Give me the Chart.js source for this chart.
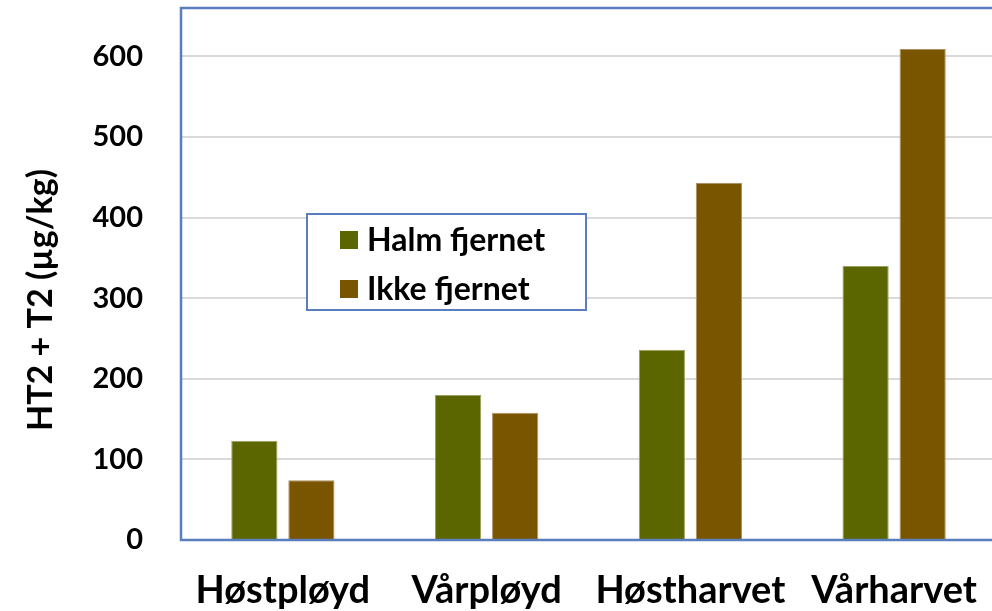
<!DOCTYPE html>
<html>
<head>
<meta charset="utf-8">
<script src="https://cdn.jsdelivr.net/npm/chart.js@4.4.0/dist/chart.umd.min.js"></script>
<style>
    html, body { margin: 0; padding: 0; background: #fff; overflow: hidden; }
    #wrap { width: 992px; height: 611px; overflow: hidden; }
</style>
</head>
<body>
<div id="wrap"><canvas id="barChart" width="1000" height="611"></canvas></div>
<script>
const categories = ['Høstpløyd', 'Vårpløyd', 'Høstharvet', 'Vårharvet'];
const halmFjernet = [123, 180, 236, 340];
const ikkeFjernet = [74, 158, 443, 609];
const seriesNames = ['Halm fjernet', 'Ikke fjernet'];
const yTicks = [0, 100, 200, 300, 400, 500, 600];
const yTitle = 'HT2 + T2 (µg/kg)';

const FONT = 'Lato, "Liberation Sans", sans-serif';
const BLUE = '#5a7dbd';

// frame round the plot, the y title and the legend box inside the plot
const framePlugin = {
    id: 'frame',
    afterDraw(chart) {
        const ctx = chart.ctx;
        const a = chart.chartArea;
        ctx.save();
        ctx.strokeStyle = BLUE;
        ctx.lineWidth = 2.5;
        ctx.strokeRect(a.left, a.top, a.right - a.left, a.bottom - a.top);

        // y axis title
        ctx.translate(41, 300);
        ctx.rotate(-Math.PI / 2);
        ctx.fillStyle = '#000';
        ctx.font = 'bold 34px ' + FONT;
        ctx.textAlign = 'center';
        ctx.textBaseline = 'middle';
        ctx.fillText(yTitle, 0, 0);
        ctx.restore();

        // legend
        ctx.save();
        const box = { x: 307, y: 214, w: 279, h: 96 };
        ctx.fillStyle = '#fff';
        ctx.fillRect(box.x, box.y, box.w, box.h);
        ctx.strokeStyle = BLUE;
        ctx.lineWidth = 2;
        ctx.strokeRect(box.x, box.y, box.w, box.h);
        ctx.font = 'bold 32px ' + FONT;
        ctx.textBaseline = 'middle';
        chart.data.datasets.forEach((ds, i) => {
            const cy = 240 + i * 49;
            ctx.fillStyle = ds.backgroundColor;
            ctx.fillRect(340, cy - 9, 18, 18);
            ctx.fillStyle = '#000';
            ctx.fillText(ds.label, 367, cy + 1);
        });
        ctx.restore();
    }
};

new Chart(document.getElementById('barChart'), {
    type: 'bar',
    data: {
        labels: categories,
        datasets: [{
            label: seriesNames[0],
            data: halmFjernet,
            backgroundColor: '#5c6600',
            borderColor: '#9aa060',
            borderWidth: 1,
            categoryPercentage: 0.56,
            barPercentage: 0.81,
        }, {
            label: seriesNames[1],
            data: ikkeFjernet,
            backgroundColor: '#7a5500',
            borderColor: '#b09060',
            borderWidth: 1,
            categoryPercentage: 0.56,
            barPercentage: 0.81,
        }]
    },
    options: {
        responsive: false,
        animation: false,
        layout: { padding: { top: 8, right: 4, left: 0, bottom: 0 } },
        plugins: {
            legend: { display: false },
            tooltip: { enabled: false },
        },
        scales: {
            x: {
                grid: { display: false, drawTicks: false },
                border: { display: false },
                ticks: {
                    color: '#000',
                    padding: 28,
                    maxRotation: 0,
                    font: { family: FONT, size: 38, weight: 'bold' },
                },
                afterFit: (s) => { s.height = 71; s.paddingLeft = 0; s.paddingRight = 0; },
            },
            y: {
                min: 0,
                max: 660,
                afterBuildTicks: (s) => { s.ticks = yTicks.map(v => ({ value: v })); },
                grid: { color: '#d9d9d9', lineWidth: 2, drawTicks: false },
                border: { display: false },
                ticks: {
                    color: '#000',
                    padding: 38,
                    font: { family: FONT, size: 29, weight: 'bold' },
                },
                afterFit: (s) => { s.width = 181; s.paddingTop = 0; s.paddingBottom = 0; },
            }
        }
    },
    plugins: [framePlugin]
});
</script>
</body>
</html>
